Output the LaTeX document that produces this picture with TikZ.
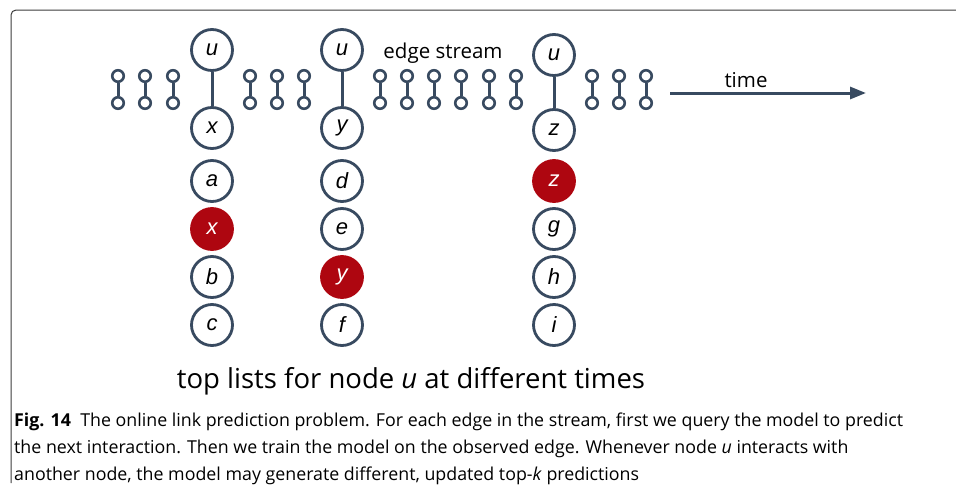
\documentclass[tikz,border=0pt]{standalone}
\usepackage{fontspec}
\setmainfont{Open Sans}
\newfontfamily\letterfont{Liberation Sans}
\newfontfamily\capfont{Open Sans}
\usetikzlibrary{arrows.meta}
\definecolor{slate}{RGB}{56,74,96}
\definecolor{hitred}{RGB}{174,6,16}
\definecolor{framegray}{RGB}{60,60,60}
\tikzset{
  big/.style={circle, draw=slate, line width=2.8pt, minimum size=41pt, inner sep=0pt,
    font=\letterfont\itshape\fontsize{22}{22}\selectfont},
  hit/.style={big, fill=hitred, draw=hitred, text=white},
  dot/.style={circle, draw=slate, line width=2.6pt, minimum size=11.5pt, inner sep=0pt},
  link/.style={slate, line width=3pt},
}

\begin{document}
\begin{tikzpicture}[x=1pt,y=-1pt]
\useasboundingbox (0,0) rectangle (956,493);
\draw[framegray, line width=1pt, rounded corners=5] (11,483) -- (11,10) -- (956,10);

% edge stream
\foreach \i/\x in {1/118,2/145,3/173,4/250,5/277,6/304,7/380,8/407,9/434,10/461,11/489,12/516,13/592,14/619,15/646} {
  \node[dot] (s\i) at (\x,76) {};
  \node[dot] (r\i) at (\x,103) {};
  \draw[link] (s\i) -- (r\i);
}

\node[big] (u1) at (212,50) {u};
\node[big] (x1) at (212,128) {x};
\draw[link] (u1) -- (x1);
\node[big] (u2) at (342,50) {u};
\node[big] (y1) at (342,128) {y};
\draw[link] (u2) -- (y1);
\node[big] (u3) at (554,55) {u};
\node[big] (z1) at (554,130) {z};
\draw[link] (u3) -- (z1);

\node[font=\fontsize{20.5}{20.5}\selectfont, anchor=base] (stream) at (443,58) {edge stream};
\node[font=\fontsize{20.5}{20.5}\selectfont, anchor=base] (timelbl) at (746,87) {time};
\coordinate (t0) at (670,93);
\coordinate (t1) at (866,93);
\draw[link, -{Triangle[length=16pt,width=12pt]}] (t0) -- (t1);

% top lists
\foreach \n/\t [count=\k] in {a/big,x/hit,b/big,c/big}
  \node[\t] (p1-\k) at (212,133+48*\k) {\n};
\foreach \n/\t [count=\k] in {d/big,e/big,y/hit,f/big}
  \node[\t] (p2-\k) at (342,133+48*\k) {\n};
\foreach \n/\t [count=\k] in {z/hit,g/big,h/big,i/big}
  \node[\t] (p3-\k) at (554,133+48*\k) {\n};

\node[font=\fontsize{27.5}{27.5}\selectfont, anchor=base] (toplbl) at (411,388)
  {top lists for node \textit{u} at different times};

% caption
\node[font=\capfont\fontsize{17.8}{17.8}\selectfont, anchor=base west, inner sep=0pt] (cap1) at (14,426)
  {\textbf{Fig. 14}\ \ The online link prediction problem. For each edge in the stream, first we query the model to predict};
\node[font=\capfont\fontsize{17.8}{17.8}\selectfont, anchor=base west, inner sep=0pt] (cap2) at (14,453)
  {the next interaction. Then we train the model on the observed edge. Whenever node \textit{u} interacts with};
\node[font=\capfont\fontsize{17.8}{17.8}\selectfont, anchor=base west, inner sep=0pt] (cap3) at (14,480)
  {another node, the model may generate different, updated top-\textit{k} predictions};
\end{tikzpicture}
\end{document}
